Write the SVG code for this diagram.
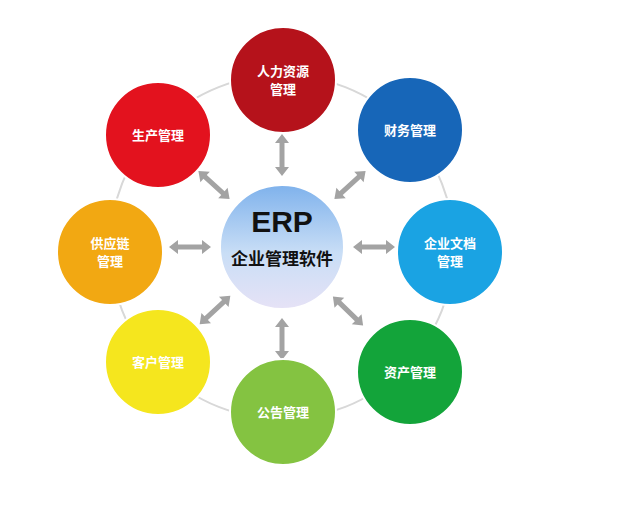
<svg xmlns="http://www.w3.org/2000/svg" width="619" height="510" viewBox="0 0 619 510">
<style>
.t{font-family:"Noto Sans CJK SC","Liberation Sans",sans-serif;font-size:13px;font-weight:bold;fill:#fff;text-anchor:middle}
.n{stroke:#fff;stroke-width:2}
</style>
<defs>
<linearGradient id="cg" x1="0" y1="0" x2="0" y2="1"><stop offset="0" stop-color="#7fb2ec"/><stop offset="0.55" stop-color="#c9def6"/><stop offset="1" stop-color="#e6e2f6"/></linearGradient>
<polygon id="ar" points="-21,0 -12,-7 -12,-2.5 12,-2.5 12,-7 21,0 12,7 12,2.5 -12,2.5 -12,7" fill="#a3a3a3"/>
</defs>
<rect width="619" height="510" fill="#fff"/>
<circle cx="282" cy="247" r="172" fill="none" stroke="#d8d8d8" stroke-width="2"/>
<g id="connectors">
<use href="#ar" transform="translate(282,155) rotate(-90)"/>
<use href="#ar" transform="translate(350,185) rotate(-42)"/>
<use href="#ar" transform="translate(374,247)"/>
<use href="#ar" transform="translate(348,311) rotate(44)"/>
<use href="#ar" transform="translate(282,339) rotate(90)"/>
<use href="#ar" transform="translate(215,310) rotate(137)"/>
<use href="#ar" transform="translate(190,247) rotate(180)"/>
<use href="#ar" transform="translate(214,185) rotate(-138)"/>
</g>
<g id="center"><circle cx="282" cy="247" r="62" fill="url(#cg)" stroke="#fff" stroke-width="2"/>
<text x="282" y="232" font-family="Liberation Sans,sans-serif" font-size="30" font-weight="bold" fill="#111" text-anchor="middle">ERP</text>
<text x="282" y="265" font-family="Noto Sans CJK SC,sans-serif" font-size="17" font-weight="bold" fill="#111" text-anchor="middle">企业管理软件</text></g>
<g id="hr"><circle class="n" cx="283" cy="80" r="53" fill="#b5121b"/><text class="t" x="283" y="76">人力资源</text><text class="t" x="283" y="94">管理</text></g>
<g id="fin"><circle class="n" cx="410" cy="130" r="53" fill="#1766b8"/><text class="t" x="410" y="135">财务管理</text></g>
<g id="doc"><circle class="n" cx="450" cy="252" r="53" fill="#1aa3e3"/><text class="t" x="450" y="248">企业文档</text><text class="t" x="450" y="266">管理</text></g>
<g id="asset"><circle class="n" cx="410" cy="372" r="53" fill="#13a43a"/><text class="t" x="410" y="377">资产管理</text></g>
<g id="notice"><circle class="n" cx="283" cy="412" r="53" fill="#84c341"/><text class="t" x="283" y="417">公告管理</text></g>
<g id="cust"><circle class="n" cx="158" cy="362" r="53" fill="#f5e61e"/><text class="t" x="158" y="367">客户管理</text></g>
<g id="supply"><circle class="n" cx="110" cy="252" r="53" fill="#f2a812"/><text class="t" x="110" y="248">供应链</text><text class="t" x="110" y="266">管理</text></g>
<g id="prod"><circle class="n" cx="158" cy="135" r="53" fill="#e3121e"/><text class="t" x="158" y="140">生产管理</text></g>
</svg>
